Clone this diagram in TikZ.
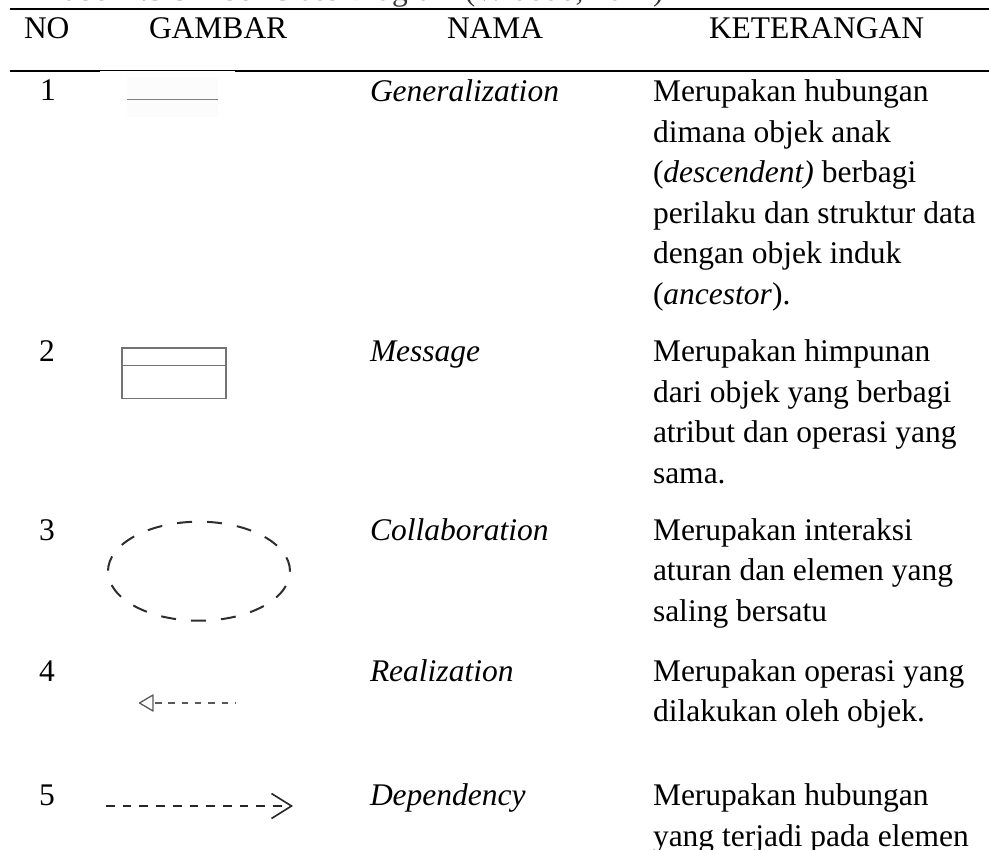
\documentclass[tikz,border=0pt]{standalone}
\usepackage{fontspec}
\setmainfont{Liberation Serif}
\begin{document}
\begin{tikzpicture}[x=1pt,y=-1pt,
  txt/.style={inner sep=0pt,outer sep=0pt,font=\fontsize{31.5}{40.5}\selectfont},
  cell/.style={txt,anchor=base west},
  numcell/.style={txt,anchor=base},
  namecell/.style={txt,anchor=base west,font=\fontsize{31.5}{40.5}\selectfont\itshape},
  rulethick/.style={line width=1.7pt},
  rulethin/.style={line width=1pt},
  symgray/.style={draw=black!55,line width=1.5pt},
  ovaldash/.style={draw=black!82,line width=2pt,dash pattern=on 15pt off 15.07pt,dash phase=14.5pt},
  realdash/.style={draw=black!65,line width=1.3pt,dash pattern=on 6.5pt off 6.8pt},
  depdash/.style={draw=black!85,line width=1.6pt,dash pattern=on 8.7pt off 8pt}
]
\useasboundingbox (0,0) rectangle (989,850);

% caption above the table (mostly outside the page)
\node[cell,text=black!80] (caption) at (47,0.3) {Tabel 2.3 Simbol Class Diagram (Widodo, 2011)};

% rules
\draw[rulethick] (10,9) -- (989,9);
\draw[rulethick] (10,71) -- (100,71);
\draw[rulethin] (100,70.5) -- (235,70.5);
\draw[rulethick] (235,71) -- (989,71);

% header
\node[cell] (hNo) at (24,38.3) {NO};
\node[cell] (hGambar) at (149,38.3) {GAMBAR};
\node[cell] (hNama) at (447,38.3) {NAMA};
\node[cell] (hKet) at (709,38.3) {KETERANGAN};

% row 1
\node[numcell] (n1) at (48,101) {1};
\fill[black!1] (127,77) rectangle (218,117);
\coordinate (genA) at (127,99.5);
\coordinate (genB) at (218,99.5);
\draw[line width=1.6pt,draw=black!50] (genA) -- (genB);
\node[namecell] (nm1) at (370,101.7) {Generalization};
\node[cell] (k1) at (653,101.7) {\parbox[t]{336pt}{\raggedright
  Merupakan hubungan\\dimana objek anak\\(\textit{descendent)} berbagi\\perilaku dan struktur data\\dengan objek induk\\(\textit{ancestor}).}};

% row 2
\node[numcell] (n2) at (47,361.7) {2};
\draw[symgray] (122,348) rectangle (226,398.3);
\draw[symgray] (122,365.5) -- (226,365.5);
\node[namecell] (nm2) at (370,361.7) {Message};
\node[cell] (k2) at (653,361.7) {\parbox[t]{336pt}{\raggedright
  Merupakan himpunan\\dari objek yang berbagi\\atribut dan operasi yang\\sama.}};

% row 3
\node[numcell] (n3) at (47,540.2) {3};
\draw[ovaldash] (199,571.2) ellipse [x radius=91,y radius=49.5];
\node[namecell] (nm3) at (370,540.2) {Collaboration};
\node[cell] (k3) at (653,540.2) {\parbox[t]{336pt}{\raggedright
  Merupakan interaksi\\aturan dan elemen yang\\saling bersatu}};

% row 4
\node[numcell] (n4) at (47,681.2) {4};
\coordinate (realTip) at (139.5,703);
\coordinate (realEnd) at (236,703);
\draw[draw=black!65,line width=1.3pt,line join=round] (153,695) -- (realTip) -- (153,711) -- cycle;
\draw[realdash] (155,703) -- (realEnd);
\node[namecell] (nm4) at (370,681.2) {Realization};
\node[cell] (k4) at (653,681.2) {\parbox[t]{336pt}{\raggedright
  Merupakan operasi yang\\dilakukan oleh objek.}};

% row 5
\node[numcell] (n5) at (47,805.5) {5};
\coordinate (depStart) at (106,806);
\coordinate (depTip) at (291.5,806);
\draw[depdash] (depStart) -- (depTip);
\draw[draw=black!85,line width=1.6pt,line join=miter] (271.5,793.5) -- (depTip) -- (271.5,818.5);
\node[namecell] (nm5) at (370,805.5) {Dependency};
\node[cell] (k5) at (653,805.5) {\parbox[t]{336pt}{\raggedright
  Merupakan hubungan\\yang terjadi pada elemen}};
\end{tikzpicture}
\end{document}
